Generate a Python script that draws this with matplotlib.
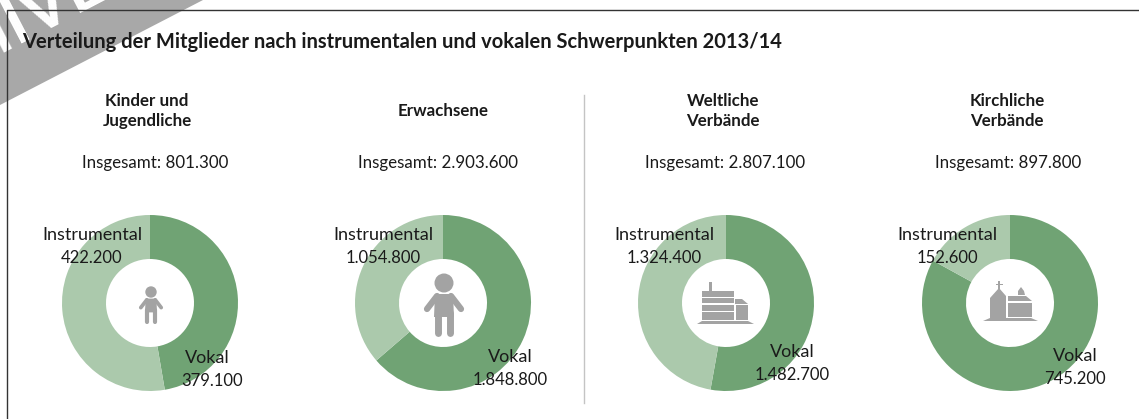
import matplotlib
matplotlib.use('Agg')
import matplotlib.pyplot as plt
from matplotlib.patches import Circle, Polygon, Rectangle

plt.rcParams['font.family'] = ['Lato', 'DejaVu Sans']

W, H = 1139, 419

# data
titles = ['Kinder und\nJugendliche', 'Erwachsene', 'Weltliche\nVerbände', 'Kirchliche\nVerbände']
totals = ['801.300', '2.903.600', '2.807.100', '897.800']
vokal = [379100, 1848800, 1482700, 745200]
instrumental = [422200, 1054800, 1324400, 152600]

# layout in pixels
centers = [150, 443, 726, 1010]
title_x = [147, 443, 723, 1007]
total_x = [155, 438, 725, 1008]
instr_pos = [(92, 235, 92, 258), (383, 235, 383, 258), (664, 235, 664, 258), (947, 235, 947, 258)]
vokal_pos = [(207, 358, 212, 381), (510, 357, 510, 380), (792, 352, 792, 375), (1075, 356, 1075, 379)]
cy = 303
radius = 88

DARK = '#70a374'
LIGHT = '#abc9ac'
GREY = '#a3a3a3'
TXT = '#1a1a1a'

fig = plt.figure(figsize=(W / 100, H / 100), dpi=100, facecolor='white')

# donuts
for i in range(4):
    ax = fig.add_axes([(centers[i] - radius) / W, (H - cy - radius) / H, 2 * radius / W, 2 * radius / H])
    ax.pie([vokal[i], instrumental[i]], colors=[DARK, LIGHT], startangle=90, counterclock=False,
           radius=1, wedgeprops={'width': 0.5, 'linewidth': 0})
    ax.set_xlim(-1, 1)
    ax.set_ylim(-1, 1)

# overlay in pixel coordinates
ov = fig.add_axes([0, 0, 1, 1], zorder=5)
ov.set_xlim(0, W)
ov.set_ylim(H, 0)
ov.axis('off')
ov.patch.set_alpha(0)


def child(x, y, s):
    # y is the head centre
    ov.add_patch(Circle((x, y), 9.5 * s, fc=GREY, ec='none'))
    ov.add_patch(Polygon([(x - 9 * s, y + 11 * s), (x + 9 * s, y + 11 * s), (x + 10 * s, y + 34 * s),
                          (x - 10 * s, y + 34 * s)], fc=GREY, ec='none'))
    ov.plot([x - 7 * s, x - 17 * s], [y + 13 * s, y + 26 * s], color=GREY, lw=4.5 * s, solid_capstyle='round')
    ov.plot([x + 7 * s, x + 17 * s], [y + 13 * s, y + 26 * s], color=GREY, lw=4.5 * s, solid_capstyle='round')
    ov.plot([x - 6 * s, x - 6 * s], [y + 30 * s, y + 50 * s], color=GREY, lw=5 * s, solid_capstyle='round')
    ov.plot([x + 6 * s, x + 6 * s], [y + 30 * s, y + 50 * s], color=GREY, lw=5 * s, solid_capstyle='round')


def building():
    ov.add_patch(Rectangle((709, 282), 3, 10, fc=GREY, ec='none'))
    for y0, y1 in [(291, 297), (298, 303), (305, 311), (312, 320)]:
        ov.add_patch(Rectangle((702, y0), 32, y1 - y0, fc=GREY, ec='none'))
    ov.add_patch(Polygon([(735, 299), (742, 299), (748, 304), (748, 304), (735, 304)], fc=GREY, ec='none'))
    ov.add_patch(Rectangle((736, 305), 12, 15, fc=GREY, ec='none'))
    ov.add_patch(Polygon([(697, 324), (702, 321), (748, 321), (754, 324)], fc=GREY, ec='none'))


def church():
    ov.add_patch(Rectangle((998.3, 281), 1.6, 10, fc=GREY, ec='none'))
    ov.add_patch(Rectangle((995.5, 283.5), 7, 1.6, fc=GREY, ec='none'))
    ov.add_patch(Polygon([(990, 298), (999, 288), (1006, 296), (1006, 321), (990, 321)], fc=GREY, ec='none'))
    ov.add_patch(Polygon([(1008, 296), (1026, 296), (1032, 301), (1008, 301)], fc=GREY, ec='none'))
    ov.add_patch(Rectangle((1008, 303), 24, 14, fc=GREY, ec='none'))
    ov.add_patch(Polygon([(1018, 295), (1018, 291), (1021, 287), (1024, 291), (1025, 295)], fc=GREY, ec='none'))
    ov.add_patch(Polygon([(983, 321), (990, 318), (1031, 318), (1038, 321)], fc=GREY, ec='none'))


child(151, 292, 0.6)
child(444, 283, 1.0)
building()
church()

# watermark band and frame
ov.add_patch(Polygon([(0, 0), (203, 0), (0, 105)], fc='#a8a8a8', ec='none', zorder=1))
ov.text(110, -2, 'ARCHIVE', color='white', fontsize=48, fontweight='bold', rotation=27.5,
        rotation_mode='anchor', ha='right', va='baseline', clip_on=True, zorder=2)
ov.plot([W, 7, 7], [10, 10, H], color='#333333', lw=1.0, zorder=3)
ov.plot([584, 584], [95, 403], color='#c4c4c4', lw=1.0)

ov.text(22, 42, 'Verteilung der Mitglieder nach instrumentalen und vokalen Schwerpunkten 2013/14',
        fontsize=14.5, fontweight='bold', color=TXT, va='center', zorder=4)

for i in range(4):
    ov.text(title_x[i], 111, titles[i], fontsize=12.2, fontweight='bold', color=TXT, ha='center',
            va='center', linespacing=1.35)
    ov.text(total_x[i], 163, 'Insgesamt: ' + totals[i], fontsize=12.2, color=TXT, ha='center', va='center')
    a = instr_pos[i]
    ov.text(a[0], a[1], 'Instrumental', fontsize=13, color=TXT, ha='center', va='center')
    ov.text(a[2], a[3], f'{instrumental[i]:,}'.replace(',', '.'), fontsize=12, color=TXT, ha='center', va='center')
    b = vokal_pos[i]
    ov.text(b[0], b[1], 'Vokal', fontsize=13, color=TXT, ha='center', va='center')
    ov.text(b[2], b[3], f'{vokal[i]:,}'.replace(',', '.'), fontsize=12, color=TXT, ha='center', va='center')

fig.savefig('out.png', dpi=100)
